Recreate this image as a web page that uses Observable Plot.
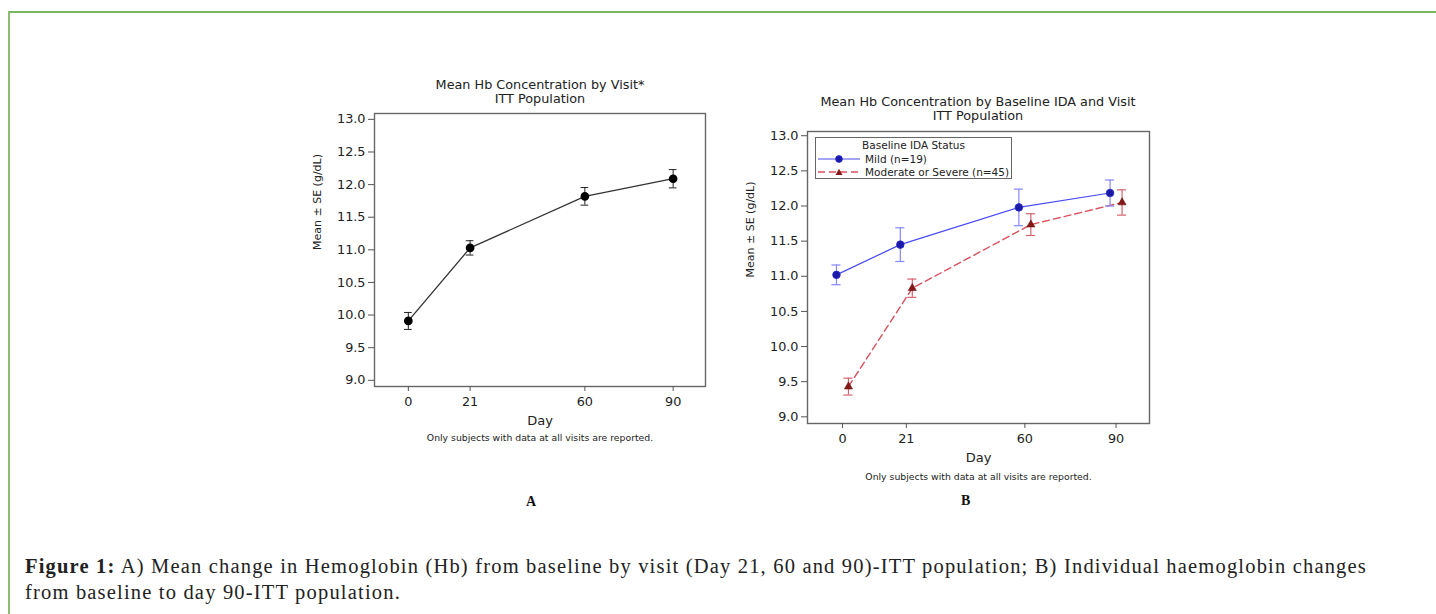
<!DOCTYPE html>
<html>
<head>
<meta charset="utf-8">
<script src="https://cdn.jsdelivr.net/npm/d3@7"></script>
<script src="https://cdn.jsdelivr.net/npm/@observablehq/plot@0.6"></script>
<style>
  html, body { margin: 0; padding: 0; background: #fff; }
  #page { position: relative; width: 1436px; height: 614px; overflow: hidden; background: #fff; }
  #border { position: absolute; left: 8px; top: 11px; right: -10px; bottom: -10px; border-top: 2px solid #7db660; border-left: 2px solid #8cc070; }
  .ttl { position: absolute; font-family: "DejaVu Sans", sans-serif; font-size: 12.8px; line-height: 14px; color: #222; text-align: center; width: 400px; }
  .panel { position: absolute; }
  .plab { position: absolute; font-family: "Liberation Serif", serif; font-weight: bold; font-size: 14px; color: #111; }
  #legend { position: absolute; left: 815px; top: 137px; width: 195px; height: 40px; border: 1px solid #666; background: #fff;
            font-family: "DejaVu Sans", sans-serif; font-size: 10.5px; color: #222; }
  #legend .lt { position: absolute; left: 0; width: 195px; top: 1px; text-align: center; }
  #legend .row { position: absolute; left: 2px; height: 13px; display: flex; align-items: center; white-space: nowrap; }
  #legend .row svg { margin-right: 5px; }
  #caption { position: absolute; left: 25px; top: 553px; font-family: "Liberation Serif", serif; font-size: 20.5px; line-height: 26px; color: #222; white-space: nowrap; }
</style>
</head>
<body>
<div id="page">
  <div id="border"></div>
  <div class="ttl" style="left:340px; top:78px;">Mean Hb Concentration by Visit*<br>ITT Population</div>
  <div class="ttl" style="left:778px; top:95px;">Mean Hb Concentration by Baseline IDA and Visit<br>ITT Population</div>
  <div class="panel" id="panelA" style="left:300px; top:100px;"></div>
  <div class="panel" id="panelB" style="left:730px; top:118px;"></div>
  <div id="legend"></div>
  <div class="plab" style="left:526px; top:494px;">A</div>
  <div class="plab" style="left:961px; top:493px;">B</div>
  <div id="caption"></div>
</div>
<script>
// ---- Data ----
const days = [0, 21, 60, 90];
const dayTicks = [0, 21, 60, 90];
const yTicks = [9.0, 9.5, 10.0, 10.5, 11.0, 11.5, 12.0, 12.5, 13.0];

// Panel A: overall ITT population
const meanAll = [9.91, 11.03, 11.82, 12.09];
const seAll   = [0.13, 0.11, 0.135, 0.14];

// Panel B: by baseline IDA status
const groupNames = ["Mild (n=19)", "Moderate or Severe (n=45)"];
const meanMild = [11.02, 11.45, 11.98, 12.185];
const seMild   = [0.14, 0.24, 0.26, 0.185];
const meanMod  = [9.43, 10.83, 11.735, 12.05];
const seMod    = [0.12, 0.13, 0.155, 0.18];

const titleA = "Mean Hb Concentration by Visit*";
const titleB = "Mean Hb Concentration by Baseline IDA and Visit";
const subtitle = "ITT Population";
const xLabel = "Day";
const yLabel = "Mean \u00b1 SE (g/dL)";
const note = "Only subjects with data at all visits are reported.";
const legendTitle = "Baseline IDA Status";
const captionBold = "Figure 1:";
const captionLine1 = " A) Mean change in Hemoglobin (Hb) from baseline by visit (Day 21, 60 and 90)-ITT population; B) Individual haemoglobin changes";
const captionLine2 = "from baseline to day 90-ITT population.";

// ---- Build tables ----
const dataA = days.map((d, i) => ({day: d, mean: meanAll[i], se: seAll[i]}));
const dataMild = days.map((d, i) => ({day: d, mean: meanMild[i], se: seMild[i]}));
const dataMod = days.map((d, i) => ({day: d, mean: meanMod[i], se: seMod[i]}));

const FONT = "DejaVu Sans, sans-serif";
const xDomain = [-11.5, 101];

function errorMarks(data, color, capHalf, dx, width) {
  return [
    Plot.ruleX(data, {x: "day", y1: d => d.mean - d.se, y2: d => d.mean + d.se, stroke: color, strokeWidth: width, dx}),
    Plot.ruleY(data, {y: d => d.mean + d.se, x1: d => d.day - capHalf, x2: d => d.day + capHalf, stroke: color, strokeWidth: width, dx}),
    Plot.ruleY(data, {y: d => d.mean - d.se, x1: d => d.day - capHalf, x2: d => d.day + capHalf, stroke: color, strokeWidth: width, dx})
  ];
}

function commonAxes() {
  return [
    Plot.axisX({ticks: dayTicks, tickSize: 5, tickPadding: 5, fontSize: 12.8, label: null, stroke: "#555"}),
    Plot.axisY({ticks: yTicks, tickFormat: d => d.toFixed(1), tickSize: 6, tickPadding: 3, fontSize: 12.8, label: null, stroke: "#555"}),
    Plot.text([yLabel], {text: d => d, frameAnchor: "left", rotate: -90, dx: -57, fontSize: 11}),
    Plot.text([xLabel], {text: d => d, frameAnchor: "bottom", dy: 38, fontSize: 13}),
  ];
}

// ---- Panel A ----
const plotA = Plot.plot({
  width: 420, height: 350,
  marginLeft: 74, marginTop: 13, marginRight: 15, marginBottom: 64,
  style: {fontFamily: FONT, color: "#222", background: "transparent"},
  x: {domain: xDomain},
  y: {domain: [8.905, 13.09]},
  marks: [
    Plot.frame({stroke: "#666", strokeWidth: 1.4}),
    ...commonAxes(),
    Plot.text([note], {text: d => d, frameAnchor: "bottom", dy: 54, fontSize: 9.3}),
    Plot.line(dataA, {x: "day", y: "mean", stroke: "#333", strokeWidth: 1.3}),
    ...errorMarks(dataA, "#222", 1.3, 0, 1),
    Plot.dot(dataA, {x: "day", y: "mean", r: 3.6, fill: "#000", stroke: "#000"})
  ]
});
document.getElementById("panelA").appendChild(plotA);

// ---- Panel B ----
const mildLine = "#4a4af2", mildErr = "#8585ff", mildDot = "#1a1aa6";
const modLine = "#d9505e", modErr = "#d5636e", modDot = "#861818";
const plotB = Plot.plot({
  width: 440, height: 370,
  marginLeft: 77, marginTop: 13, marginRight: 21, marginBottom: 65,
  style: {fontFamily: FONT, color: "#222", background: "transparent"},
  x: {domain: xDomain},
  y: {domain: [8.905, 13.06]},
  marks: [
    Plot.frame({stroke: "#666", strokeWidth: 1.4}),
    ...commonAxes(),
    Plot.text([note], {text: d => d, frameAnchor: "bottom", dy: 56, fontSize: 9.3}),
    Plot.line(dataMild, {x: "day", y: "mean", stroke: mildLine, strokeWidth: 1.2, dx: -6}),
    Plot.line(dataMod, {x: "day", y: "mean", stroke: modLine, strokeWidth: 1.4, strokeDasharray: "7,4", dx: 6}),
    ...errorMarks(dataMild, mildErr, 1.5, -6, 1.2),
    ...errorMarks(dataMod, modErr, 1.5, 6, 1.2),
    Plot.dot(dataMild, {x: "day", y: "mean", r: 3.8, fill: mildDot, stroke: "#2b2bd0", strokeWidth: 0.8, dx: -6}),
    Plot.dot(dataMod, {x: "day", y: "mean", r: 3.0, symbol: "triangle", fill: modDot, stroke: "#6a1010", strokeWidth: 0.6, dx: 6})
  ]
});
document.getElementById("panelB").appendChild(plotB);

// ---- Legend (inside panel B) ----
const legend = document.getElementById("legend");
legend.innerHTML =
  `<div class="lt">${legendTitle}</div>` +
  `<div class="row" style="top:14px;"><svg width="42" height="10"><line x1="0" y1="5" x2="42" y2="5" stroke="${mildLine}" stroke-width="1.2"/><circle cx="21" cy="5" r="3.4" fill="${mildDot}" stroke="#2b2bd0" stroke-width="0.8"/></svg>${groupNames[0]}</div>` +
  `<div class="row" style="top:27px;"><svg width="42" height="10"><line x1="0" y1="5" x2="42" y2="5" stroke="${modLine}" stroke-width="1.4" stroke-dasharray="7,4"/><path d="M21,1.8L24.5,8L17.5,8Z" fill="${modDot}"/></svg>${groupNames[1]}</div>`;

// ---- Caption ----
const cap = document.getElementById("caption");
cap.innerHTML = `<div id="cl1"><b>${captionBold}</b>${captionLine1}</div><div id="cl2">${captionLine2}</div>`;
// fit line 1 to the reference width via letter-spacing
const cl1 = document.getElementById("cl1"), cl2 = document.getElementById("cl2");
const target = 1342;
const w = cl1.getBoundingClientRect().width;
const nChars = (captionBold + captionLine1).length;
const ls = (target - w) / nChars;
cl1.style.letterSpacing = ls + "px";
cl2.style.letterSpacing = ls + "px";
</script>
</body>
</html>
